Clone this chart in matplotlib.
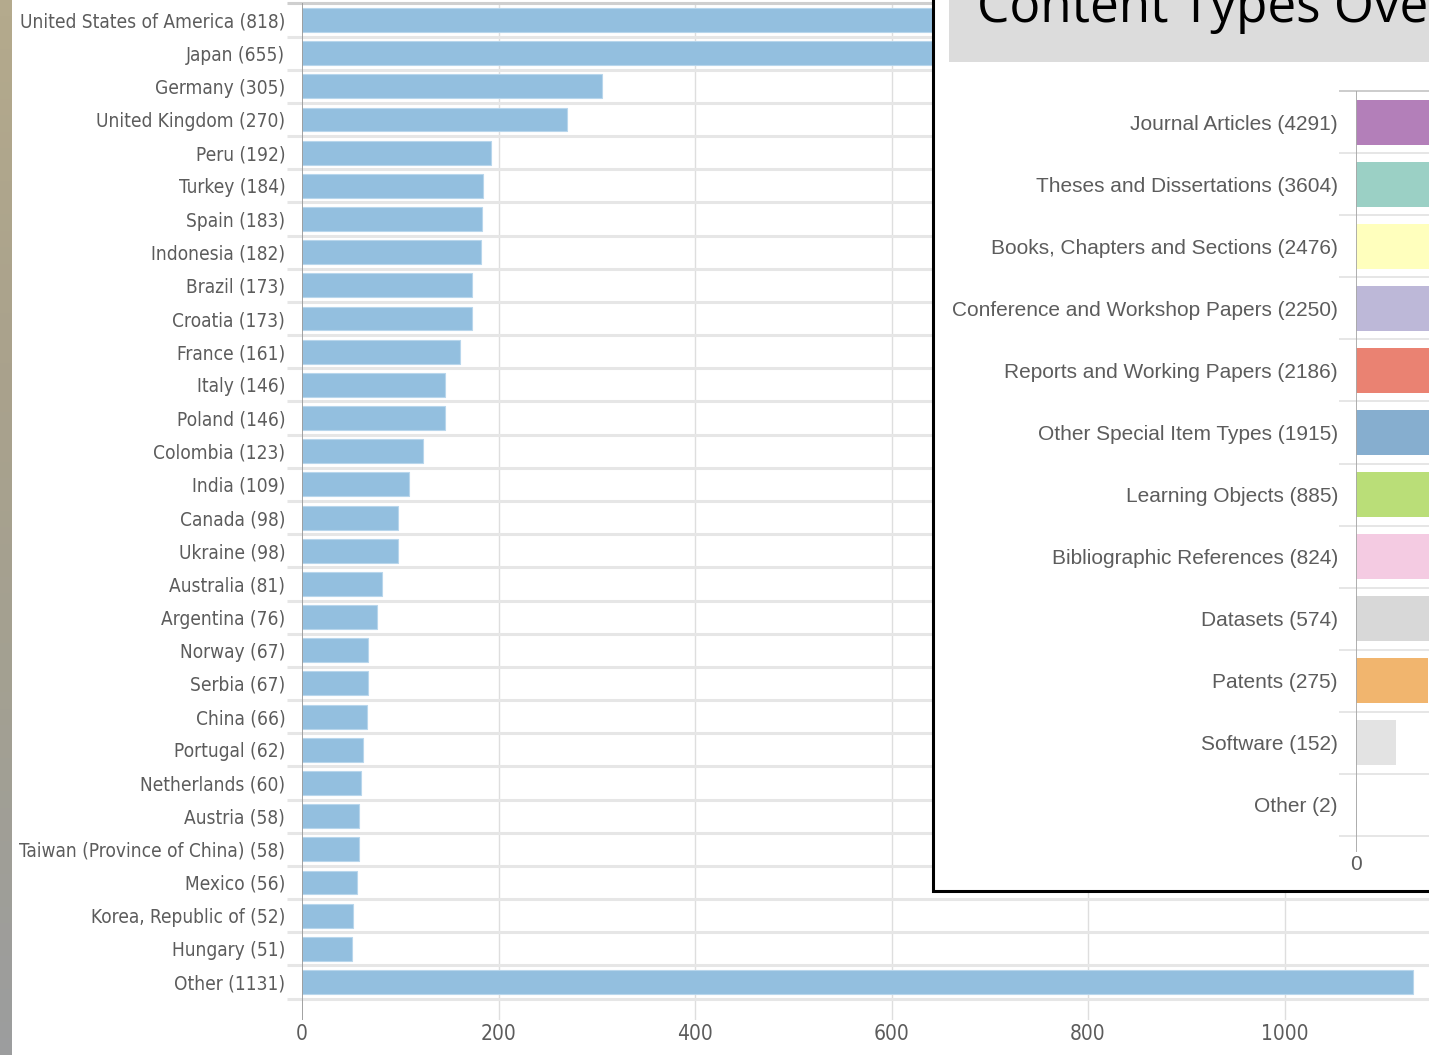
import numpy as np
import matplotlib
matplotlib.use("Agg")
import matplotlib.pyplot as plt
from matplotlib.colors import LinearSegmentedColormap
from matplotlib.patches import Rectangle

# main chart: items per country
countries = [
    "United States of America", "Japan", "Germany", "United Kingdom", "Peru",
    "Turkey", "Spain", "Indonesia", "Brazil", "Croatia", "France", "Italy",
    "Poland", "Colombia", "India", "Canada", "Ukraine", "Australia",
    "Argentina", "Norway", "Serbia", "China", "Portugal", "Netherlands",
    "Austria", "Taiwan (Province of China)", "Mexico", "Korea, Republic of",
    "Hungary", "Other",
]
country_counts = [
    818, 655, 305, 270, 192, 184, 183, 182, 173, 173, 161, 146, 146, 123, 109,
    98, 98, 81, 76, 67, 67, 66, 62, 60, 58, 58, 56, 52, 51, 1131,
]
country_ticks = [0, 200, 400, 600, 800, 1000]

# overlaid panel: content types
content_types = [
    "Journal Articles", "Theses and Dissertations", "Books, Chapters and Sections",
    "Conference and Workshop Papers", "Reports and Working Papers",
    "Other Special Item Types", "Learning Objects", "Bibliographic References",
    "Datasets", "Patents", "Software", "Other",
]
content_counts = [4291, 3604, 2476, 2250, 2186, 1915, 885, 824, 574, 275, 152, 2]
content_colors = [
    "#b37fb9", "#9bd0c5", "#ffffbd", "#bdb8d8", "#ea8272", "#86aecf",
    "#bade78", "#f4cbe2", "#d8d8d8", "#f1b56e", "#e3e3e3", "#e3e3e3",
]
content_ticks = [0]

W, H = 1429, 1055
NARROW = ["Liberation Sans Narrow", "DejaVu Sans"]
LABEL_GREY = "#5c5c5c"

fig = plt.figure(figsize=(W / 100, H / 100), dpi=100)
fig.patch.set_facecolor("white")

# textured strip on the far left (background of the screenshot)
strip = fig.add_axes([0, 0, 12 / W, 1])
strip_cmap = LinearSegmentedColormap.from_list(
    "strip", ["#b4aa8d", "#aaa28c", "#a3a092", "#9c9d9e"])
strip.imshow(np.linspace(0, 1, 64).reshape(-1, 1), aspect="auto", cmap=strip_cmap)
strip.axis("off")

# ---- main country bar chart ----
ax = fig.add_axes([302 / W, 1 - 1020 / H, 1 - 302 / W, (1020 - 3.4) / H])
ypos = np.arange(len(countries))
ax.barh(ypos, country_counts, height=0.72, color="#93bfdf",
        edgecolor="#b8d6ec", linewidth=0.8, zorder=3)
ax.set_xlim(0, 1147)
ax.set_ylim(29 + (1020 - 982) / 33.17, -0.5)
for i in range(len(countries) + 1):
    ax.hlines(i - 0.5, -15.5, 1147, color="#cfcfcf" if i == 0 else "#e6e6e6",
              linewidth=2.2, clip_on=False, zorder=2)
for t in country_ticks[1:]:
    ax.axvline(t, color="#dedede", linewidth=1.0, zorder=1)
ax.axvline(0, color="#9a9a9a", linewidth=1.3, zorder=4)
ax.set_yticks(ypos)
ylabels = ax.set_yticklabels(
    [f"{c} ({n})" for c, n in zip(countries, country_counts)],
    family=NARROW, stretch="condensed", fontsize=15, color=LABEL_GREY)
ax.set_xticks(country_ticks)
xlabels = ax.set_xticklabels([str(t) for t in country_ticks], family=NARROW,
                             stretch="condensed", fontsize=16, color=LABEL_GREY)
ax.tick_params(axis="y", length=0, pad=12)
ax.tick_params(axis="x", length=0, pad=3)
for s in ax.spines.values():
    s.set_visible(False)

# the original uses a condensed face; fit the longest label to its width
renderer = fig.canvas.get_renderer()
widest = max(t.get_window_extent(renderer).width for t in ylabels)
size = 15 * 266 / widest
for t in ylabels:
    t.set_fontsize(size)
for t in xlabels:
    t.set_fontsize(min(size * 1.1, 17))

# ---- overlaid "Content Types" window ----
fig.patches.append(Rectangle((933 / W, 1 - 891 / H), 1.0, 1.0,
                             transform=fig.transFigure, facecolor="white",
                             edgecolor="black", linewidth=2.2, zorder=2))
fig.patches.append(Rectangle((949 / W, 1 - 62 / H), 1.0, 1.0,
                             transform=fig.transFigure, facecolor="#dcdcdc",
                             edgecolor="none", zorder=3))
fig.text(977 / W, 1 - 22 / H, "Content Types Overview", family=["Open Sans", "DejaVu Sans"],
         fontsize=37, color="black", ha="left", va="baseline", zorder=4)

scale = 0.263  # px per item in the inset
ax2 = fig.add_axes([1356 / W, 1 - 852 / H, 4600 * scale / W, (852 - 91) / H])
ax2.set_zorder(5)
ax2.patch.set_alpha(0)
cpos = np.arange(len(content_types))
ax2.barh(cpos, content_counts, height=0.725, color=content_colors, zorder=3)
ax2.set_xlim(0, 4600)
ax2.set_ylim(11.5 + 16 / 62.1, -0.5)
for i in range(len(content_types) + 1):
    ax2.hlines(i - 0.5, -65, 4600, color="#c4c4c4" if i == 0 else "#e2e2e2",
               linewidth=1.2, clip_on=False, zorder=2)
ax2.axvline(0, color="#a8a8a8", linewidth=1.3, zorder=4)
ax2.set_yticks(cpos)
ax2.set_yticklabels([f"{c} ({n})" for c, n in zip(content_types, content_counts)],
                    family=["Liberation Sans", "DejaVu Sans"], fontsize=15,
                    color=LABEL_GREY)
ax2.set_xticks(content_ticks)
ax2.set_xticklabels([str(t) for t in content_ticks],
                    family=["Liberation Sans", "DejaVu Sans"], fontsize=15,
                    color=LABEL_GREY)
ax2.tick_params(axis="y", length=0, pad=13)
ax2.tick_params(axis="x", length=0, pad=2)
for s in ax2.spines.values():
    s.set_visible(False)

fig.savefig("out.png", dpi=100)
